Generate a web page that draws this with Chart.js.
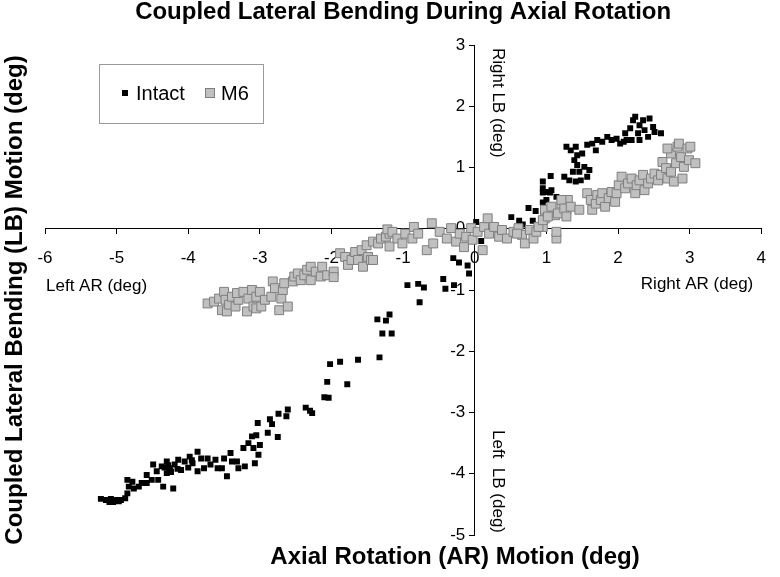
<!DOCTYPE html>
<html>
<head>
<meta charset="utf-8">
<script src="https://cdn.jsdelivr.net/npm/chart.js@4.4.0/dist/chart.umd.min.js"></script>
<style>
  html, body { margin: 0; padding: 0; background: #fff; }
</style>
</head>
<body>
<canvas id="myChart" width="780" height="577"></canvas>
<script>
// axial rotation (deg) and coupled lateral bending (deg)
const intactAR = [
  -0.94, -0.79, -0.71, -0.77, -1.36, -1.24, -1.19, -1.29, -1.16, -1.33,
  -1.63, -1.88, -2.02, -2.06, -1.78, -2.10, -2.04, -2.36, -2.30, -2.27,
  -2.61, -2.63, -2.74, -2.86, -2.83, -3.03, -0.30, -0.22, -0.10, -0.08,
  -0.44, -0.41, -0.29, 0.09, 0.02, -0.16, 0.51, 0.62, 0.67, 0.75,
  0.85, 0.81, 0.59, 0.95, 1.05, 1.14, 0.95, 0.95, 0.95, 0.99,
  1.06, 1.07, 1.00, 1.28, 1.34, 1.41, 1.39, 1.43, 1.37, 1.46,
  1.25, 1.32, 1.41, 1.48, 1.57, 1.53, 1.60, 1.50, 1.57, 1.64,
  1.71, 1.78, 1.85, 1.91, 1.98, 2.03, 2.10, 2.12, 2.17, 2.21,
  2.24, 2.30, 2.28, 2.35, 2.37, 2.42, 2.44, 2.49, 2.51, 2.60,
  2.19, 2.30, 2.08, 1.69, 1.43,
  -5.22, -5.15, -5.08, -5.01, -4.94, -4.88, -4.85, -4.83, -4.85, -4.78,
  -4.76, -4.69, -4.65, -4.58, -4.58, -4.51, -4.49, -4.44, -4.42, -4.37,
  -4.35, -4.30, -4.30, -4.26, -4.21, -4.19, -4.14, -4.10, -3.98, -3.94,
  -3.87, -3.87, -3.82, -3.78, -3.73, -3.69, -3.62, -3.59, -3.53, -3.50,
  -3.46, -3.41, -3.39, -3.32, -3.30, -3.21, -3.23, -3.16, -3.11, -3.09,
  -3.07, -3.02, -3.00, -3.05, -2.89, -2.75,
  -4.05, -4.00, -4.25, -4.15, -3.95, -5.10, -5.05, -4.97, -4.33, -4.24, -4.28
];
const intactLB = [
  -0.92, -0.90, -0.96, -1.20, -1.48, -1.50, -1.40, -1.71, -1.71, -2.10,
  -2.14, -2.17, -2.21, -2.50, -2.54, -2.75, -2.76, -2.92, -2.97, -3.01,
  -2.95, -3.06, -3.02, -3.11, -3.19, -3.17, -0.48, -0.55, -0.60, -0.73,
  -0.82, -0.98, -0.92, -0.20, 0.11, -0.28, 0.19, 0.13, 0.07, 0.34,
  0.29, 0.13, 0.02, 0.59, 0.59, 0.52, 0.43, 0.77, 0.66, 0.60,
  0.86, 0.63, 0.47, 1.34, 1.28, 1.34, 1.12, 1.04, 0.93, 0.93,
  0.85, 0.79, 0.77, 0.79, 0.85, 1.01, 0.96, 1.23, 1.37, 1.39,
  1.45, 1.42, 1.50, 1.45, 1.47, 1.39, 1.56, 1.45, 1.64, 1.77,
  1.83, 1.69, 1.56, 1.77, 1.61, 1.50, 1.80, 1.66, 1.58, 1.56,
  1.45, 1.45, 1.42, 1.28, 1.20,
  -4.41, -4.43, -4.41, -4.43, -4.43, -4.40, -4.32, -4.21, -4.10, -4.13,
  -4.24, -4.21, -4.15, -4.02, -4.15, -4.10, -3.85, -3.96, -4.10, -3.88,
  -4.21, -3.80, -3.99, -3.91, -4.24, -3.85, -3.77, -3.94, -3.72, -3.83,
  -3.64, -3.96, -3.75, -3.91, -3.75, -3.85, -3.77, -3.91, -3.91, -3.75,
  -4.04, -3.66, -3.80, -3.80, -3.91, -3.88, -3.58, -3.50, -3.39, -3.58,
  -3.83, -3.69, -3.53, -3.37, -3.33, -3.40,
  -3.80, -3.90, -3.95, -3.92, -3.78, -4.46, -4.46, -4.45, -3.90, -3.97, -3.86
];
const m6AR = [
  -3.73, -3.64, -3.57, -3.50, -3.48, -3.53, -3.46, -3.43, -3.39, -3.34,
  -3.30, -3.32, -3.23, -3.18, -3.16, -3.11, -3.09, -3.05, -3.05, -3.00,
  -2.98, -2.93, -2.84, -2.82, -2.79, -2.73, -2.70, -2.68, -2.61, -2.66,
  -2.54, -2.52, -2.47, -2.43, -2.38, -2.34, -2.29, -2.29, -2.22, -2.15,
  -2.13, -2.06, -1.97, -1.97, -1.88, -1.81, -1.77, -1.72, -1.67, -1.63,
  -1.58, -1.56, -1.51, -1.49, -1.45, -1.42, -1.35, -1.31, -1.24, -1.19,
  -1.19, -1.42,
  -1.22, -1.15, -1.08, -1.01, -0.97, -0.87, -0.85, -0.79, -0.67, -0.60,
  -0.58, -0.49, -0.39, -0.33, -0.26, -0.21, -0.15, -0.12, -0.05, -0.03,
  0.04, 0.11, 0.13, 0.18, 0.20, 0.27, 0.34, 0.38, 0.45, 0.54,
  0.61, 0.66, 0.70, 0.77, 0.82, 0.86, 0.95, 0.98, 1.05, 1.12,
  1.14, 1.21, 1.28, 1.30, 0.59, 0.89, 0.95, 0.98, 1.02, 1.07,
  1.14, 1.16, 1.21, 1.25, 1.28, 1.34, 1.46, 1.57, 1.62, 1.64,
  1.69, 1.71, 1.76, 1.78, 1.82, 1.87, 1.91, 1.96, 1.98, 2.01,
  2.05, 2.10, 2.14, 2.19, 2.24, 2.26, 2.30, 2.35, 2.37, 2.42,
  2.46, 2.51, 2.56, 2.60, 2.62, 2.67, 2.69, 2.74, 2.74, 2.78,
  2.81, 2.83, 2.85, 2.88, 2.90, 2.92, 2.97, 2.99, 3.01, 3.08,
  2.69
];
const m6LB = [
  -1.22, -1.19, -1.14, -1.03, -1.16, -1.33, -1.35, -1.24, -1.11, -1.27,
  -1.16, -1.05, -1.03, -1.35, -1.14, -1.00, -1.27, -1.30, -1.11, -1.03,
  -1.27, -1.16, -1.11, -0.86, -0.97, -1.33, -1.14, -1.00, -1.27, -0.89,
  -0.86, -0.78, -0.73, -0.84, -0.76, -0.67, -0.62, -0.84, -0.70, -0.78,
  -0.62, -0.76, -0.70, -0.79, -0.40, -0.46, -0.59, -0.51, -0.38, -0.51,
  -0.35, -0.62, -0.27, -0.46, -0.51, -0.21, -0.24, -0.16, -0.13, -0.08,
  -0.29, -0.51,
  -0.01, -0.05, -0.16, -0.24, -0.08, -0.16, 0.03, -0.08, -0.35, 0.09,
  -0.24, -0.05, -0.16, 0.01, -0.21, -0.08, -0.30, -0.13, 0.01, -0.18,
  -0.05, -0.35, 0.03, 0.17, -0.08, 0.03, -0.13, -0.02, -0.16, -0.05,
  0.01, -0.10, -0.24, -0.02, -0.16, -0.05, 0.03, 0.17, 0.31, 0.22,
  -0.16, 0.41, 0.31, 0.47, -0.08, 0.03, 0.14, 0.31, 0.20, 0.36,
  -0.05, 0.25, 0.47, 0.33, 0.20, 0.36, 0.31, 0.58, 0.47, 0.31,
  0.41, 0.55, 0.47, 0.58, 0.36, 0.50, 0.60, 0.44, 0.58, 0.71,
  0.85, 0.66, 0.74, 0.82, 0.58, 0.71, 0.79, 0.88, 0.63, 0.74,
  0.82, 0.90, 0.79, 0.88, 1.09, 0.99, 0.82, 1.23, 0.93, 0.77,
  1.07, 1.34, 1.39, 1.17, 0.82, 1.01, 1.31, 1.12, 1.34, 1.07,
  1.31
];
const seriesNames = ['Intact', 'M6'];
const chartTitle = 'Coupled Lateral Bending During Axial Rotation';
const xTitle = 'Axial Rotation (AR) Motion (deg)';
const yTitle = 'Coupled Lateral Bending (LB) Motion (deg)';

const FONT = "'Liberation Sans', Arial, sans-serif";
Chart.defaults.font.family = FONT;
Chart.defaults.color = '#000';

const toPoints = (xs, ys) => xs.map((v, i) => ({ x: v, y: ys[i] }));

// axis titles, direction notes and the boxed legend
const annotate = {
  id: 'annotate',
  afterDraw(chart) {
    const { ctx, chartArea, scales } = chart;
    const y0 = scales.y.getPixelForValue(0);
    const x0 = scales.x.getPixelForValue(0);
    ctx.save();
    ctx.fillStyle = '#000';
    ctx.textBaseline = 'middle';

    ctx.font = 'bold 24px ' + FONT;
    ctx.textAlign = 'center';
    ctx.fillText(xTitle, 455, 557);
    ctx.save();
    ctx.translate(15, 300);
    ctx.rotate(-Math.PI / 2);
    ctx.fillText(yTitle, 0, 0);
    ctx.restore();

    ctx.font = '17px ' + FONT;
    ctx.textAlign = 'left';
    ctx.fillText('Left AR (deg)', chartArea.left + 1, y0 + 58);
    ctx.textAlign = 'right';
    ctx.fillText('Right AR (deg)', chartArea.right - 8, y0 + 56);
    ctx.textAlign = 'left';
    [['Right LB (deg)', chartArea.top + 3], ['Left  LB (deg)', 430]].forEach(([t, top]) => {
      ctx.save();
      ctx.translate(x0 + 23, top);
      ctx.rotate(Math.PI / 2);
      ctx.fillText(t, 0, 0);
      ctx.restore();
    });

    // legend box
    ctx.fillStyle = '#fff';
    ctx.strokeStyle = '#9a9a9a';
    ctx.lineWidth = 1;
    ctx.fillRect(99.5, 64.5, 164, 59);
    ctx.strokeRect(99.5, 64.5, 164, 59);
    const ds = chart.data.datasets;
    ctx.fillStyle = ds[0].backgroundColor;
    ctx.fillRect(122, 90, 6, 6);
    ctx.fillStyle = ds[1].backgroundColor;
    ctx.strokeStyle = ds[1].borderColor;
    ctx.fillRect(205.5, 88.5, 9, 9);
    ctx.strokeRect(205.5, 88.5, 9, 9);
    ctx.fillStyle = '#000';
    ctx.font = '20px ' + FONT;
    ctx.fillText(ds[0].label, 136, 94);
    ctx.fillText(ds[1].label, 221, 94);
    ctx.restore();
  }
};

const ctx = document.getElementById('myChart').getContext('2d');
const myChart = new Chart(ctx, {
  type: 'scatter',
  data: {
    datasets: [{
      label: seriesNames[0],
      data: toPoints(intactAR, intactLB),
      pointStyle: 'rect',
      pointRadius: 4.2,
      backgroundColor: '#000000',
      borderColor: '#000000',
      borderWidth: 0,
      order: 1
    }, {
      label: seriesNames[1],
      data: toPoints(m6AR, m6LB),
      pointStyle: 'rect',
      pointRadius: 6.3,
      backgroundColor: '#c0c0c0',
      borderColor: '#7f7f7f',
      borderWidth: 1,
      order: 0
    }]
  },
  options: {
    responsive: false,
    animation: false,
    events: [],
    layout: { padding: { left: 45, right: 5, top: 0, bottom: 42 } },
    scales: {
      x: {
        type: 'linear',
        min: -6,
        max: 4,
        position: { y: 0 },
        border: { display: true, color: '#000', width: 1 },
        grid: { drawOnChartArea: false, drawTicks: true, tickLength: 5, color: '#000' },
        ticks: { stepSize: 1, padding: 14, font: { size: 17 }, color: '#000' }
      },
      y: {
        type: 'linear',
        min: -5,
        max: 3,
        position: { x: 0 },
        border: { display: true, color: '#000', width: 1 },
        grid: { drawOnChartArea: false, drawTicks: true, tickLength: 5, color: '#000' },
        ticks: {
          stepSize: 1,
          font: { size: 17 },
          color: '#000',
          // labels sit flush on a value-positioned axis, so keep a gap
          callback: (v) => v + '  '
        }
      }
    },
    plugins: {
      legend: { display: false },
      tooltip: { enabled: false },
      title: {
        display: true,
        text: chartTitle,
        fullSize: false,
        color: '#000',
        font: { size: 24, weight: 'bold', lineHeight: 1 },
        padding: { top: 0, bottom: 21 }
      }
    }
  },
  plugins: [annotate]
});
</script>
</body>
</html>
